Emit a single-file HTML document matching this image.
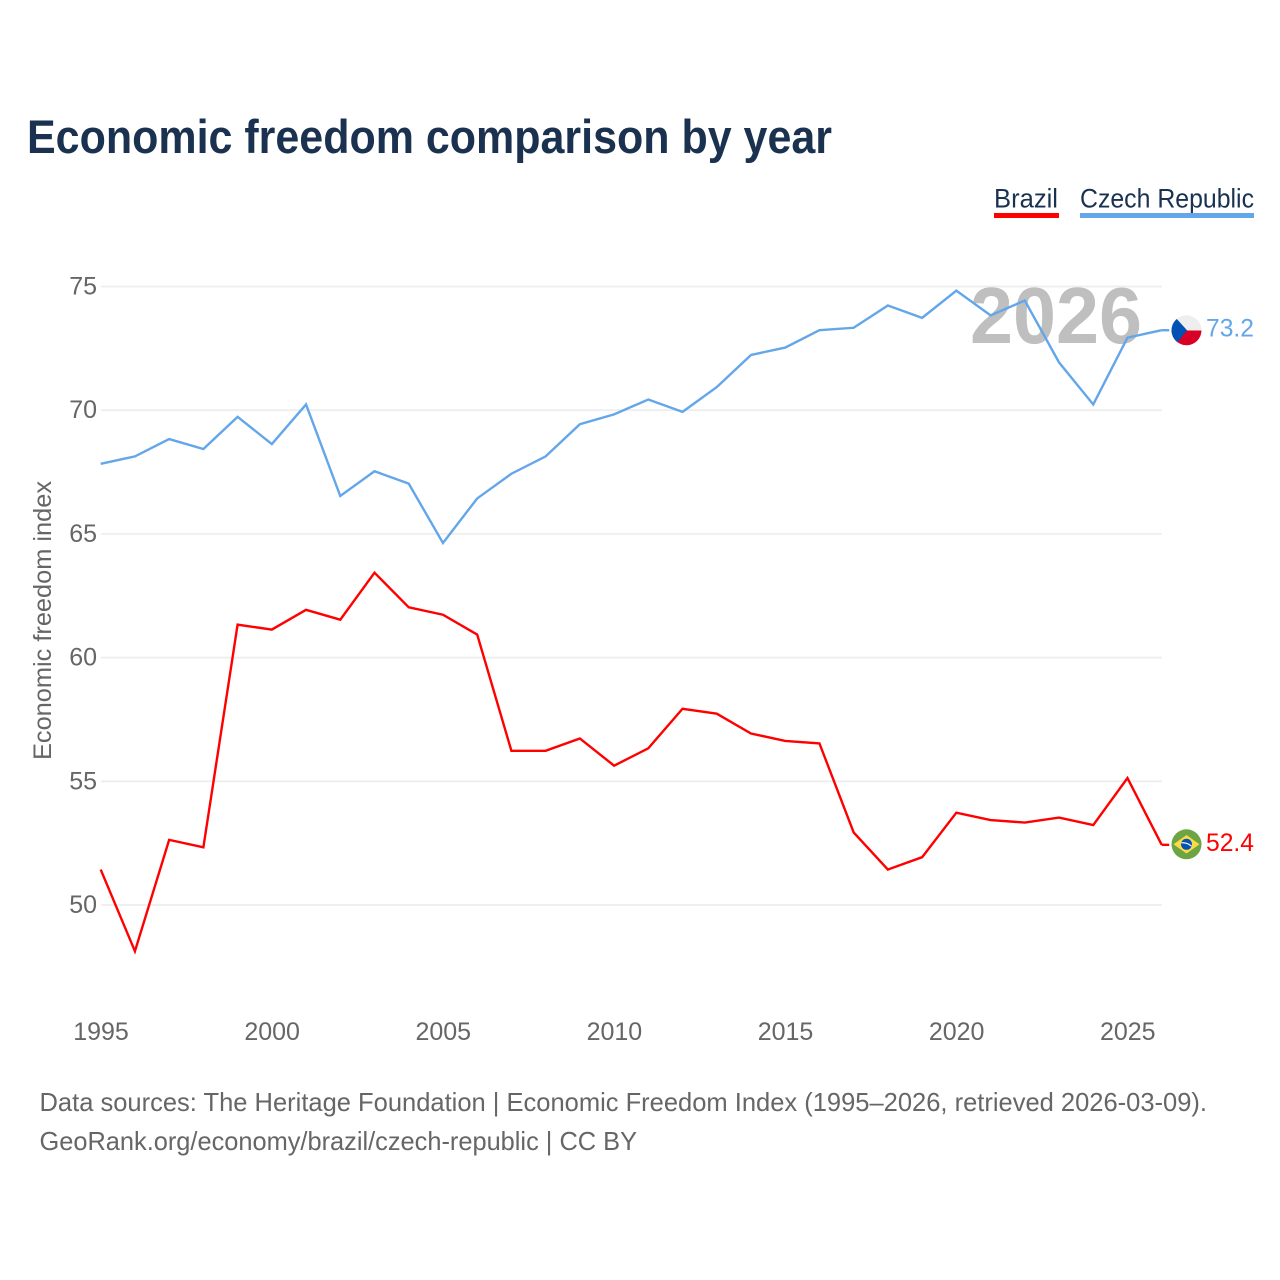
<!DOCTYPE html>
<html lang="en">
<head>
<meta charset="utf-8">
<title>Economic freedom comparison by year</title>
<style>
html,body{margin:0;padding:0;background:#fff;}
svg{display:block;font-family:"Liberation Sans",Arial,sans-serif;}
</style>
</head>
<body>
<svg id="chart" xmlns="http://www.w3.org/2000/svg" width="1280" height="1280" viewBox="0 0 1280 1280">
  <defs>
    <clipPath id="czech-clip"><circle cx="1186.5" cy="330.3" r="15"></circle></clipPath>
    <clipPath id="brazil-clip"><circle cx="1186.5" cy="844.3" r="15"></circle></clipPath>
  </defs>
  <rect x="0" y="0" width="1280" height="1280" fill="#ffffff"></rect>
  <text x="27" y="153" font-size="47" font-weight="700" fill="#1a3150" textLength="805" lengthAdjust="spacingAndGlyphs">Economic freedom comparison by year</text>

  <g>
    <text x="994" y="207.5" font-size="27" fill="#1a3150" textLength="64" lengthAdjust="spacingAndGlyphs">Brazil</text>
    <rect x="994" y="213" width="65" height="5" fill="#ff0000"></rect>
  </g>
  <g>
    <text x="1080" y="207.5" font-size="27" fill="#1a3150" textLength="174" lengthAdjust="spacingAndGlyphs">Czech Republic</text>
    <rect x="1080" y="213" width="174" height="5" fill="#63a6ea"></rect>
  </g>

  <g id="grid"></g>
  <g id="y-labels"></g>
  <g id="x-labels"></g>

  <text transform="translate(51 620.5) rotate(-90)" text-anchor="middle" font-size="25" fill="#666666" textLength="279" lengthAdjust="spacingAndGlyphs">Economic freedom index</text>

  <text x="970" y="343" font-size="80" font-weight="700" fill="#bfbfbf" textLength="172" lengthAdjust="spacingAndGlyphs">2026</text>

  <g id="series" transform="translate(-0.3 -0.8)"></g>

  <g clip-path="url(#czech-clip)">
    <rect x="1171" y="315" width="31" height="15.5" fill="#eeeeee"></rect>
    <rect x="1171" y="330.5" width="31" height="15.5" fill="#d80027"></rect>
    <polygon points="1171,315 1175,317 1187,330.3 1176,344 1171,346" fill="#0052b4"></polygon>
  </g>
  <g clip-path="url(#brazil-clip)">
    <rect x="1171" y="829" width="31" height="31" fill="#6da544"></rect>
    <polygon points="1186.5,835 1199.5,844.3 1186.5,853.5 1173.5,844.3" fill="#ffda44"></polygon>
    <circle cx="1186.5" cy="844.3" r="5.5" fill="#0052b4"></circle>
    <path d="M1181.3 842.9 Q1186.5 842.1 1191.5 846.1" fill="none" stroke="#f0f0f0" stroke-width="1.2"></path>
  </g>

  <text id="value-czech" x="1206" y="336.5" font-size="25" fill="#63a6ea" textLength="48" lengthAdjust="spacingAndGlyphs"></text>
  <text id="value-brazil" x="1206" y="851" font-size="25" fill="#ff0000" textLength="48" lengthAdjust="spacingAndGlyphs"></text>

  <text x="39.5" y="1111" font-size="26" fill="#666666" textLength="1167.5" lengthAdjust="spacingAndGlyphs">Data sources: The Heritage Foundation | Economic Freedom Index (1995–2026, retrieved 2026-03-09).</text>
  <text x="39.5" y="1150" font-size="26" fill="#666666" textLength="597.5" lengthAdjust="spacingAndGlyphs">GeoRank.org/economy/brazil/czech-republic | CC BY</text>
</svg>
<script>
const years = [1995,1996,1997,1998,1999,2000,2001,2002,2003,2004,2005,2006,2007,2008,2009,2010,2011,2012,2013,2014,2015,2016,2017,2018,2019,2020,2021,2022,2023,2024,2025,2026];
const brazilValues = [51.4,48.1,52.6,52.3,61.3,61.1,61.9,61.5,63.4,62.0,61.7,60.9,56.2,56.2,56.7,55.6,56.3,57.9,57.7,56.9,56.6,56.5,52.9,51.4,51.9,53.7,53.4,53.3,53.5,53.2,55.1,52.4];
const czechValues = [67.8,68.1,68.8,68.4,69.7,68.6,70.2,66.5,67.5,67.0,64.6,66.4,67.4,68.1,69.4,69.8,70.4,69.9,70.9,72.2,72.5,73.2,73.3,74.2,73.7,74.8,73.8,74.4,71.9,70.2,72.9,73.2];
const yTicks = [50,55,60,65,70,75];
const xTicks = [1995,2000,2005,2010,2015,2020,2025];

const SVG_NS = 'http://www.w3.org/2000/svg';
const xScale = function (year) { return 101 + (year - 1995) * (1162 - 101) / 31; };
const yScale = function (value) { return 905 - (value - 50) * (905 - 286.5) / 25; };

const gridGroup = document.getElementById('grid');
const yLabelGroup = document.getElementById('y-labels');
const xLabelGroup = document.getElementById('x-labels');
const seriesGroup = document.getElementById('series');

yTicks.forEach(function (tick) {
  const line = document.createElementNS(SVG_NS, 'line');
  
  
  line.setAttribute('x1', 101);
  line.setAttribute('x2', 1162);
  line.setAttribute('y1', yScale(tick));
  line.setAttribute('y2', yScale(tick));
  line.setAttribute('stroke', '#eeeeee');
  line.setAttribute('stroke-width', 1.8);
  gridGroup.appendChild(line);

  const label = document.createElementNS(SVG_NS, 'text');
  
  
  label.setAttribute('x', 97);
  label.setAttribute('y', yScale(tick) + 8);
  label.setAttribute('text-anchor', 'end');
  label.setAttribute('font-size', 25);
  label.setAttribute('fill', '#666666');
  label.textContent = String(tick);
  yLabelGroup.appendChild(label);
});

xTicks.forEach(function (tick) {
  const label = document.createElementNS(SVG_NS, 'text');
  
  
  label.setAttribute('x', xScale(tick));
  label.setAttribute('y', 1040);
  label.setAttribute('text-anchor', 'middle');
  label.setAttribute('font-size', 25);
  label.setAttribute('fill', '#666666');
  label.textContent = String(tick);
  xLabelGroup.appendChild(label);
});

function pathFor(values) {
  return values.map(function (value, i) {
    return (i === 0 ? 'M' : 'L') + xScale(years[i]).toFixed(2) + ' ' + yScale(value).toFixed(2);
  }).join(' ');
}

const czechConnector = document.createElementNS(SVG_NS, 'line');


czechConnector.setAttribute('x1', xScale(years[years.length - 1]));
czechConnector.setAttribute('x2', 1169.5);
czechConnector.setAttribute('y1', yScale(czechValues[czechValues.length - 1]));
czechConnector.setAttribute('y2', yScale(czechValues[czechValues.length - 1]));
czechConnector.setAttribute('stroke', '#63a6ea');
czechConnector.setAttribute('stroke-width', 2.4);
seriesGroup.appendChild(czechConnector);

const brazilConnector = document.createElementNS(SVG_NS, 'line');


brazilConnector.setAttribute('x1', xScale(years[years.length - 1]));
brazilConnector.setAttribute('x2', 1169.5);
brazilConnector.setAttribute('y1', yScale(brazilValues[brazilValues.length - 1]));
brazilConnector.setAttribute('y2', yScale(brazilValues[brazilValues.length - 1]));
brazilConnector.setAttribute('stroke', '#ff0000');
brazilConnector.setAttribute('stroke-width', 2.4);
seriesGroup.appendChild(brazilConnector);

const brazilLine = document.createElementNS(SVG_NS, 'path');


brazilLine.setAttribute('d', pathFor(brazilValues));
brazilLine.setAttribute('fill', 'none');
brazilLine.setAttribute('stroke', '#ff0000');
brazilLine.setAttribute('stroke-width', 2.4);
brazilLine.setAttribute('stroke-linejoin', 'miter');
seriesGroup.appendChild(brazilLine);

const czechLine = document.createElementNS(SVG_NS, 'path');


czechLine.setAttribute('d', pathFor(czechValues));
czechLine.setAttribute('fill', 'none');
czechLine.setAttribute('stroke', '#63a6ea');
czechLine.setAttribute('stroke-width', 2.4);
czechLine.setAttribute('stroke-linejoin', 'miter');
seriesGroup.appendChild(czechLine);

document.getElementById('value-czech').textContent = czechValues[czechValues.length - 1].toFixed(1);
document.getElementById('value-brazil').textContent = brazilValues[brazilValues.length - 1].toFixed(1);
</script>
</body>
</html>
